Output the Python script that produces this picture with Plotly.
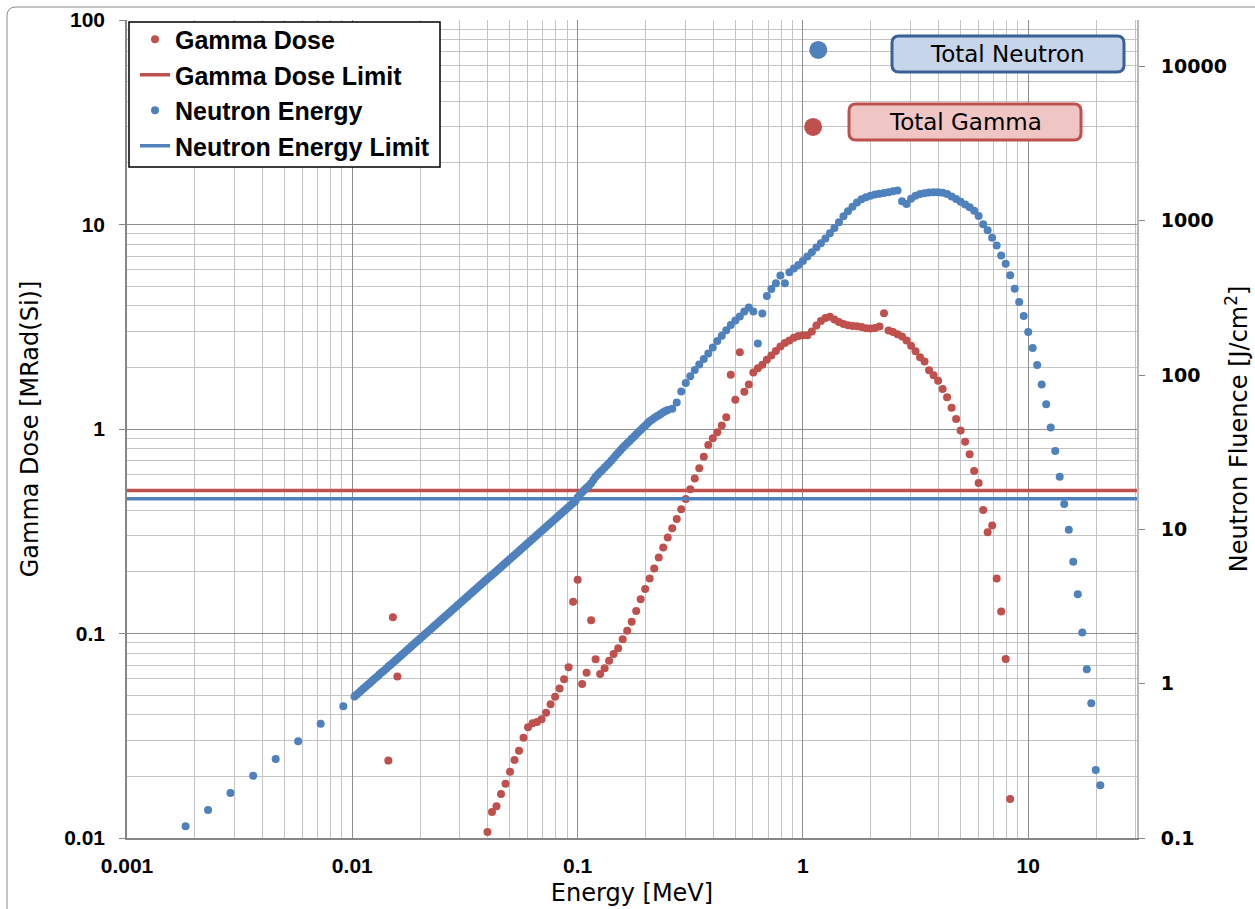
import plotly.graph_objects as go

# ---------------- data ----------------
# Neutron energy spectrum (right axis, neutron fluence)
neutron_x = [
    0.00182, 0.00229, 0.00288, 0.00363, 0.00457, 0.00575, 0.00724, 0.00912,
    0.01023, 0.01047, 0.01072, 0.01096, 0.01122, 0.01148, 0.01175, 0.01202, 0.01230, 0.01259,
    0.01288, 0.01318, 0.01349, 0.01380, 0.01413, 0.01445, 0.01479, 0.01514, 0.01549, 0.01585,
    0.01622, 0.01660, 0.01698, 0.01738, 0.01778, 0.01820, 0.01862, 0.01905, 0.01950, 0.01995,
    0.02042, 0.02089, 0.02138, 0.02188, 0.02239, 0.02291, 0.02344, 0.02399, 0.02455, 0.02512,
    0.02570, 0.02630, 0.02692, 0.02754, 0.02818, 0.02884, 0.02951, 0.03020, 0.03090, 0.03162,
    0.03236, 0.03311, 0.03388, 0.03467, 0.03548, 0.03631, 0.03715, 0.03802, 0.03890, 0.03981,
    0.04074, 0.04169, 0.04266, 0.04365, 0.04467, 0.04571, 0.04677, 0.04786, 0.04898, 0.05012,
    0.05129, 0.05248, 0.05370, 0.05495, 0.05623, 0.05754, 0.05888, 0.06026, 0.06166, 0.06310,
    0.06457, 0.06607, 0.06761, 0.06918, 0.07079, 0.07244, 0.07413, 0.07586, 0.07762, 0.07943,
    0.08128, 0.08318, 0.08511, 0.08710, 0.08913, 0.09120, 0.09333, 0.09550, 0.09772,
    0.1000, 0.1023, 0.1047, 0.1072, 0.1096, 0.1122, 0.1148, 0.1175, 0.1202, 0.1230,
    0.1259, 0.1288, 0.1318, 0.1349, 0.1380, 0.1413, 0.1445, 0.1479, 0.1514, 0.1549,
    0.1585, 0.1622, 0.1660, 0.1698, 0.1738, 0.1778, 0.1820, 0.1862, 0.1905, 0.1950,
    0.1995, 0.2042, 0.2089, 0.2138, 0.2188, 0.2239, 0.2291, 0.2344, 0.2399, 0.2455,
    0.2512, 0.2630, 0.2754, 0.2884, 0.3020, 0.3162, 0.3311, 0.3467, 0.3631, 0.3802,
    0.3981, 0.4169, 0.4365, 0.4571, 0.4786, 0.5012, 0.5248, 0.5495, 0.5754, 0.6026,
    0.6310, 0.6607, 0.6918, 0.7244, 0.7586, 0.7943, 0.8318, 0.8710, 0.9120, 0.9550,
    1.000, 1.047, 1.096, 1.148, 1.202, 1.259, 1.318, 1.380, 1.445, 1.514,
    1.585, 1.660, 1.738, 1.820, 1.905, 1.995, 2.089, 2.188, 2.291, 2.399,
    2.512, 2.630, 2.754, 2.884, 3.020, 3.162, 3.311, 3.467, 3.631, 3.802,
    3.981, 4.169, 4.365, 4.571, 4.786, 5.012, 5.248, 5.495, 5.754, 6.026,
    6.310, 6.607, 6.918, 7.244, 7.586, 7.943, 8.318, 8.710, 9.120, 9.550,
    10.00, 10.47, 10.96, 11.48, 12.02, 12.59, 13.18, 13.80, 14.45, 15.14,
    15.85, 16.60, 17.38, 18.20, 19.05, 19.95, 20.89,
]
neutron_fluence = [
    0.119, 0.152, 0.196, 0.253, 0.325, 0.423, 0.550, 0.714,
    0.825, 0.850, 0.876, 0.902, 0.930, 0.958, 0.987, 1.016, 1.047, 1.079,
    1.111, 1.145, 1.180, 1.215, 1.252, 1.290, 1.329, 1.369, 1.410, 1.453,
    1.497, 1.542, 1.588, 1.636, 1.686, 1.737, 1.789, 1.843, 1.899, 1.956,
    2.015, 2.076, 2.139, 2.204, 2.270, 2.339, 2.410, 2.482, 2.557, 2.635,
    2.714, 2.796, 2.881, 2.968, 3.057, 3.150, 3.245, 3.343, 3.444, 3.548,
    3.655, 3.766, 3.880, 3.997, 4.118, 4.242, 4.370, 4.502, 4.638, 4.778,
    4.923, 5.071, 5.225, 5.382, 5.545, 5.713, 5.885, 6.063, 6.246, 6.435,
    6.629, 6.830, 7.036, 7.249, 7.468, 7.693, 7.926, 8.165, 8.412, 8.666,
    8.928, 9.198, 9.475, 9.762, 10.06, 10.36, 10.67, 11.00, 11.33, 11.67,
    12.02, 12.39, 12.76, 13.15, 13.54, 13.95, 14.37, 14.81, 15.26,
    16.1, 16.7, 17.4, 18.0, 18.6, 19.2, 19.9, 20.9, 21.9, 22.7,
    23.5, 24.3, 25.2, 26.0, 26.9, 27.9, 29.0, 30.2, 31.4, 32.6,
    33.8, 34.9, 36.1, 37.3, 38.6, 39.9, 41.3, 42.7, 44.1, 45.5,
    47.0, 48.6, 50.2, 51.4, 52.6, 53.8, 55.0, 56.2, 57.4, 58.4,
    59.4, 60.5, 66.4, 78.2, 89.0, 98.2, 108, 117, 127, 138,
    151, 166, 180, 195, 211, 226, 240, 258, 274, 258,
    160, 251, 325, 361, 394, 441, 393, 463, 490, 517,
    549, 586, 626, 670, 716, 767, 831, 896, 978, 1071,
    1154, 1234, 1312, 1376, 1420, 1454, 1478, 1498, 1513, 1529,
    1552, 1568, 1337, 1283, 1388, 1451, 1489, 1507, 1522, 1529,
    1529, 1518, 1489, 1434, 1382, 1327, 1273, 1223, 1161, 1074,
    949, 868, 776, 692, 596, 527, 443, 363, 298, 241,
    190, 150, 116, 86.8, 64.6, 45.7, 32.2, 21.9, 14.6, 9.96,
    6.16, 3.80, 2.15, 1.24, 0.748, 0.276, 0.220,
]

# Gamma dose (left axis)
gamma_x = [
    0.01445, 0.01514, 0.01585,
    0.03981, 0.04169, 0.04365, 0.04571, 0.04786, 0.05012, 0.05248, 0.05495, 0.05754, 0.06026,
    0.06310, 0.06607, 0.06918, 0.07244, 0.07586, 0.07943, 0.08318, 0.08710, 0.09120, 0.09550,
    0.1000, 0.1047, 0.1096, 0.1148, 0.1202, 0.1259, 0.1318, 0.1380, 0.1445, 0.1514,
    0.1585, 0.1660, 0.1738, 0.1820, 0.1905, 0.1995, 0.2089, 0.2188, 0.2291, 0.2399,
    0.2512, 0.2630, 0.2754, 0.2884, 0.3020, 0.3162, 0.3311, 0.3467, 0.3631, 0.3802,
    0.3981, 0.4169, 0.4365, 0.4571, 0.4786, 0.5012, 0.5248, 0.5495, 0.5754, 0.6026,
    0.6310, 0.6607, 0.6918, 0.7244, 0.7586, 0.7943, 0.8318, 0.8710, 0.9120, 0.9550,
    1.000, 1.047, 1.096, 1.148, 1.202, 1.259, 1.318, 1.380, 1.445, 1.514,
    1.585, 1.660, 1.738, 1.820, 1.905, 1.995, 2.089, 2.188, 2.291, 2.399,
    2.512, 2.630, 2.754, 2.884, 3.020, 3.162, 3.311, 3.467, 3.631, 3.802,
    3.981, 4.169, 4.365, 4.571, 4.786, 5.012, 5.248, 5.495, 5.754, 6.026,
    6.310, 6.607, 6.918, 7.244, 7.586, 7.943, 8.318,
]
gamma_dose = [
    0.0239, 0.120, 0.0616,
    0.0107, 0.0134, 0.0143, 0.0164, 0.0184, 0.0211, 0.0241, 0.0267, 0.0309, 0.0348,
    0.0364, 0.0369, 0.0381, 0.0410, 0.0451, 0.0491, 0.0538, 0.0597, 0.0683, 0.143,
    0.183, 0.0566, 0.0643, 0.116, 0.0748, 0.0634, 0.0676, 0.0736, 0.0794, 0.0846,
    0.0937, 0.103, 0.114, 0.129, 0.147, 0.165, 0.186, 0.208, 0.235, 0.263,
    0.295, 0.327, 0.363, 0.405, 0.455, 0.507, 0.573, 0.642, 0.732, 0.835,
    0.900, 0.964, 1.04, 1.14, 1.84, 1.39, 2.37, 1.52, 1.65, 1.89,
    1.98, 2.06, 2.18, 2.29, 2.41, 2.53, 2.63, 2.71, 2.79, 2.85,
    2.87, 2.87, 3.00, 3.21, 3.37, 3.49, 3.54, 3.43, 3.34, 3.26,
    3.22, 3.19, 3.18, 3.15, 3.11, 3.10, 3.12, 3.17, 3.68, 3.03,
    2.98, 2.91, 2.83, 2.71, 2.55, 2.40, 2.24, 2.14, 1.94, 1.83,
    1.72, 1.57, 1.43, 1.27, 1.12, 0.983, 0.866, 0.752, 0.623, 0.544,
    0.402, 0.313, 0.337, 0.186, 0.128, 0.0750, 0.0155,
]

# Limits
energy_span = [0.001, 30.4]
gamma_limit = [0.5, 0.5]
neutron_limit = [15.8, 15.8]

# Totals
total_gamma_x, total_gamma_y = [1.11], [30.0]
total_neutron_x, total_neutron_y = [1.17], [12800]

# Tick labels
x_ticks = [0.001, 0.01, 0.1, 1, 10]
x_tick_labels = ["0.001", "0.01", "0.1", "1", "10"]
y_ticks = [0.01, 0.1, 1, 10, 100]
y_tick_labels = ["0.01", "0.1", "1", "10", "100"]
y2_ticks = [0.1, 1, 10, 100, 1000, 10000]
y2_tick_labels = ["0.1", "1", "10", "100", "1000", "10000"]

# ---------------- styling ----------------
RED = "#C0504D"
BLUE = "#4F81BD"
MAJOR_GRID = "#8e8e8e"
MINOR_GRID = "#c4c4c4"

minor_x = [m * 10 ** e for e in range(-3, 2) for m in range(2, 10)]
minor_y = [m * 10 ** e for e in range(-2, 2) for m in range(2, 10)]

fig = go.Figure()

fig.add_trace(go.Scatter(
    x=energy_span, y=gamma_limit, mode="lines", name="Gamma Dose Limit",
    line=dict(color=RED, width=3.5), legendrank=2, yaxis="y"))
fig.add_trace(go.Scatter(
    x=gamma_x, y=gamma_dose, mode="markers", name="Gamma Dose",
    marker=dict(color=RED, size=8), legendrank=1, yaxis="y"))
fig.add_trace(go.Scatter(
    x=total_gamma_x, y=total_gamma_y, mode="markers", showlegend=False,
    marker=dict(color=RED, size=18), yaxis="y"))

fig.add_trace(go.Scatter(
    x=energy_span, y=neutron_limit, mode="lines", name="Neutron Energy Limit",
    line=dict(color=BLUE, width=3.5), legendrank=4, yaxis="y2"))
fig.add_trace(go.Scatter(
    x=neutron_x, y=neutron_fluence, mode="markers", name="Neutron Energy",
    marker=dict(color=BLUE, size=8), legendrank=3, yaxis="y2"))
fig.add_trace(go.Scatter(
    x=total_neutron_x, y=total_neutron_y, mode="markers", showlegend=False,
    marker=dict(color=BLUE, size=18), yaxis="y2"))

W, H = 1255, 909
L, R, T, B = 127, 118, 20, 71
PW, PH = W - L - R, H - T - B


def px(xp):
    return (xp - L) / PW


def py(yp):
    return (H - B - yp) / PH


def rounded(x0, y0, x1, y1, r):
    return (f"M {px(x0 + r)},{py(y0)} L {px(x1 - r)},{py(y0)} "
            f"Q {px(x1)},{py(y0)} {px(x1)},{py(y0 + r)} "
            f"L {px(x1)},{py(y1 - r)} Q {px(x1)},{py(y1)} {px(x1 - r)},{py(y1)} "
            f"L {px(x0 + r)},{py(y1)} Q {px(x0)},{py(y1)} {px(x0)},{py(y1 - r)} "
            f"L {px(x0)},{py(y0 + r)} Q {px(x0)},{py(y0)} {px(x0 + r)},{py(y0)} Z")


shapes = [
    # legend frame
    dict(type="rect", xref="paper", yref="paper",
         x0=px(129), x1=px(440), y0=py(167), y1=py(22),
         fillcolor="white", line=dict(color="black", width=1.5), layer="above"),
    dict(type="path", xref="paper", yref="paper", path=rounded(892, 36, 1124, 72, 7),
         fillcolor="#C6D5EA", line=dict(color="#3A6193", width=3), layer="above"),
    dict(type="path", xref="paper", yref="paper", path=rounded(849, 104, 1081, 140, 7),
         fillcolor="#F0C6C5", line=dict(color="#C0504D", width=3), layer="above"),
    dict(type="path", xref="paper", yref="paper", path=rounded(7, 7, 1400, 1000, 9),
         line=dict(color="#8a8a8a", width=1), layer="below"),
]

annotations = [
    dict(text="Total Neutron", xref="paper", yref="paper", x=px(1007), y=py(54),
         xanchor="center", yanchor="middle",
         showarrow=False, font=dict(family="DejaVu Sans", size=23, color="black")),
    dict(text="Total Gamma", xref="paper", yref="paper", x=px(965), y=py(122),
         xanchor="center", yanchor="middle",
         showarrow=False, font=dict(family="DejaVu Sans", size=23, color="black")),
]

tick_font = dict(family="Liberation Sans", size=21, color="black", weight="bold")
title_font = dict(family="DejaVu Sans", size=24, color="black")

fig.update_layout(
    width=W, height=H,
    margin=dict(l=L, r=R, t=T, b=B),
    paper_bgcolor="white", plot_bgcolor="white",
    shapes=shapes, annotations=annotations,
    showlegend=True,
    legend=dict(
        x=px(135), y=py(16.5), xanchor="left", yanchor="top",
        bgcolor="rgba(0,0,0,0)", borderwidth=0,
        font=dict(family="Liberation Sans", size=25, color="black", weight="bold"),
        traceorder="normal", itemwidth=30,
    ),
    xaxis=dict(
        type="log", range=[-3, 1.4829], autorange=False,
        tickmode="array", tickvals=x_ticks, ticktext=x_tick_labels,
        tickfont=tick_font, ticks="", ticklabelstandoff=8,
        showgrid=True, gridcolor=MAJOR_GRID, gridwidth=1.2,
        minor=dict(tickmode="array", tickvals=minor_x, showgrid=True,
                   gridcolor=MINOR_GRID, gridwidth=1, ticks=""),
        showline=True, linecolor="#868686", linewidth=1.5,
        zeroline=False,
        title=dict(text="Energy [MeV]", font=title_font, standoff=8),
        automargin=False,
    ),
    yaxis=dict(
        type="log", range=[-2, 2], autorange=False,
        tickmode="array", tickvals=y_ticks, ticktext=y_tick_labels,
        tickfont=tick_font, ticks="outside", ticklen=6, tickcolor="#868686",
        ticklabelstandoff=10,
        showgrid=True, gridcolor=MAJOR_GRID, gridwidth=1.2,
        minor=dict(tickmode="array", tickvals=minor_y, showgrid=True,
                   gridcolor=MINOR_GRID, gridwidth=1, ticks=""),
        showline=True, linecolor="#868686", linewidth=1.5,
        zeroline=False,
        title=dict(text="Gamma Dose [MRad(Si)]", font=title_font, standoff=19),
        automargin=False,
    ),
    yaxis2=dict(
        type="log", range=[-1, 4.301], autorange=False,
        overlaying="y", side="right",
        tickmode="array", tickvals=y2_ticks, ticktext=y2_tick_labels,
        tickfont=dict(family="DejaVu Sans", size=19, color="black", weight="bold"),
        ticks="outside", ticklen=6, tickcolor="#868686", ticklabelstandoff=12,
        showgrid=False, zeroline=False,
        showline=True, linecolor="#b8b8b8", linewidth=2,
        title=dict(text="Neutron Fluence [J/cm<sup>2</sup>]", font=title_font, standoff=4),
        automargin=False,
    ),
)

fig.write_html("out.html")
